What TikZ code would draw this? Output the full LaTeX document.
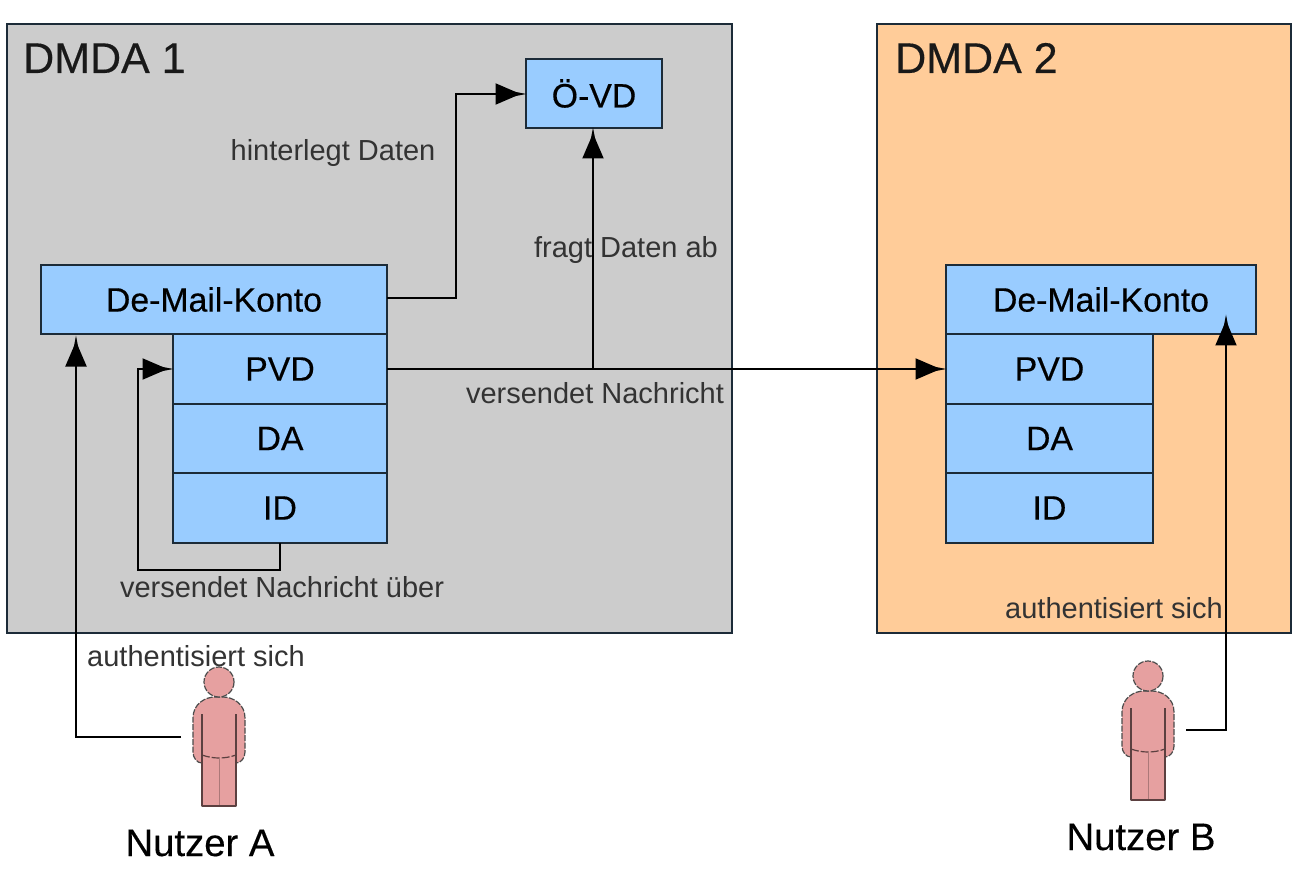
\documentclass[tikz,border=0pt]{standalone}
\usepackage{fontspec}
\setmainfont{Liberation Sans}
\newfontfamily\heavyfont[FakeBold=0.35]{Liberation Sans}
\usetikzlibrary{arrows.meta}
\definecolor{areagrey}{HTML}{CCCCCC}
\definecolor{areaorange}{HTML}{FFCC99}
\definecolor{boxblue}{HTML}{99CCFF}
\definecolor{personred}{HTML}{E6A0A0}
\definecolor{edgedark}{HTML}{1C2B38}
\definecolor{labelgrey}{HTML}{333333}
\newcommand{\fs}[1]{\fontsize{#1pt}{#1pt}\selectfont}
\tikzset{
  x=1pt,y=-1pt,
  area/.style={draw=edgedark,line width=1.5pt,anchor=north west,inner sep=0pt,outer sep=0pt},
  cell/.style={draw=edgedark,line width=1.5pt,fill=boxblue,anchor=north west,inner sep=0pt,outer sep=0pt,font=\heavyfont\fs{33.8},text=black},
  flow/.style={line width=2pt,color=black,shorten >=-1.5pt,-{Triangle[length=25pt,width=21pt,sep=-9pt]Triangle[length=16pt,width=5pt]}},
  lbl/.style={inner sep=0pt,text=labelgrey,font=\fs{29}},
  title/.style={inner sep=0pt,text=black!90,font=\heavyfont\fs{43}},
  who/.style={inner sep=0pt,text=black,font=\heavyfont\fs{38.3}},
  figure/.style={fill=personred,draw=black!70,line width=1.2pt,dash pattern=on 6pt off 1.5pt},
  figline/.style={draw=black!60!personred,line width=1.2pt},
  figthin/.style={draw=black!25!personred,line width=1pt}
}
\newcommand{\personfig}[2]{%
  \begin{scope}[shift={(#1,#2)}]
    \draw[figure] (-17,81) .. controls (-22,81) and (-26,76) .. (-26,70)
      -- (-26,36) .. controls (-26,22) and (-14,15) .. (-4,15) -- (4,15)
      .. controls (14,15) and (26,22) .. (26,36) -- (26,70)
      .. controls (26,76) and (22,81) .. (17,81) -- (17,124) -- (-17,124) -- cycle;
    \draw[figure] (0,0) circle[radius=15];
    \draw[figline] (-17,32) -- (-17,124);
    \draw[figline] (17,32) -- (17,124);
    \draw[figline,dash pattern=on 8pt off 2pt] (-17,73) .. controls (-6,77) and (6,77) .. (17,73);
    \draw[figthin] (0,76) -- (0,124);
    \draw[figline] (-17,124) -- (17,124);
  \end{scope}}
\begin{document}
\begin{tikzpicture}
\useasboundingbox (0,0) rectangle (1295,890);
\fill[white] (0,0) rectangle (1295,890);
\node[area,fill=areagrey,minimum width=725pt,minimum height=609pt] (dmda1) at (7,24) {};
\node[area,fill=areaorange,minimum width=414pt,minimum height=609pt] (dmda2) at (877,24) {};
\node[cell,minimum width=136pt,minimum height=69pt] (ovd) at (526,59) {Ö-VD};
\node[cell,minimum width=346pt,minimum height=69pt] (konto1) at (41,265) {De-Mail-Konto};
\node[cell,minimum width=214pt,minimum height=70pt] (pvd1) at (173,334) {PVD};
\node[cell,minimum width=214pt,minimum height=69pt] (da1) at (173,404) {DA};
\node[cell,minimum width=214pt,minimum height=70pt] (id1) at (173,473) {ID};
\node[cell,minimum width=310pt,minimum height=69pt] (konto2) at (946,265) {De-Mail-Konto};
\node[cell,minimum width=207pt,minimum height=70pt] (pvd2) at (946,334) {PVD};
\node[cell,minimum width=207pt,minimum height=69pt] (da2) at (946,404) {DA};
\node[cell,minimum width=207pt,minimum height=70pt] (id2) at (946,473) {ID};
\personfig{219}{682}
\personfig{1148}{676}
\coordinate (footA) at (181,737);
\coordinate (footB) at (1186,730);
\coordinate (tipA) at (76,336);
\coordinate (tipB) at (1226,315);
\coordinate (branch) at (593,369);
\draw[flow] (konto1.east |- 0,298) -- (456,298) -- (456,94) -- (ovd.west |- 0,94);
\draw[flow] (pvd1.east) -- (pvd2.west);
\draw[flow] (branch) -- (branch |- ovd.south);
\draw[flow] (id1.south) -- (id1.south |- 0,570) -- (138,570) -- (138,369) -- (pvd1.west);
\draw[flow] (footA) -- (76,737) -- (tipA);
\draw[flow] (footB) -- (1226,730) -- (tipB);
\node[title,anchor=base west] (t1) at (23,73) {DMDA 1};
\node[title,anchor=base west] (t2) at (895,73) {DMDA 2};
\node[lbl,anchor=base] (l1) at (333,161) {hinterlegt Daten};
\node[lbl,anchor=base] (l2) at (626,258) {fragt Daten ab};
\node[lbl,anchor=base] (l3) at (595,403) {versendet Nachricht};
\node[lbl,anchor=base] (l4) at (282,597) {versendet Nachricht über};
\node[lbl,anchor=base] (l5) at (196,666) {authentisiert sich};
\node[lbl,anchor=base] (l6) at (1114,618) {authentisiert sich};
\node[who,anchor=base] (n1) at (200,856) {Nutzer A};
\node[who,anchor=base] (n2) at (1141,850) {Nutzer B};
\end{tikzpicture}
\end{document}
